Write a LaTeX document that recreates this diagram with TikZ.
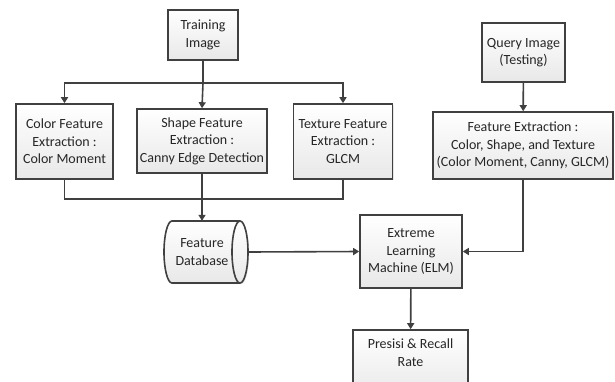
\documentclass[tikz,border=0pt]{standalone}
\usepackage{fontspec}
\setmainfont{Carlito}
\usepackage{xcolor}
\usepackage{tikz}
\usetikzlibrary{arrows.meta,positioning,shadows}

\definecolor{edgegray}{HTML}{404040}
\definecolor{inkgray}{HTML}{262626}

\begin{document}
\begin{tikzpicture}
		[x=1pt,y=-1pt,
		shell/.style={draw=edgegray,line width=1.6pt,top color=white,bottom color=black!9,
			drop shadow={opacity=0.2,shadow xshift=1.2pt,shadow yshift=-1.2pt}},
		box/.style={shell,align=center,inner sep=1pt,text=inkgray,
			font=\fontsize{14}{17.5}\selectfont},
		link/.style={draw=edgegray,line width=1.6pt},
		flow/.style={link,-{Triangle[length=6pt,width=7pt]}}]
		\useasboundingbox (0,0) rectangle (615,381);
		\clip (0,0) rectangle (615,381);
		% training side
		\node[box,minimum width=70pt,minimum height=50pt] (train) at (203,35) {Training\\Image};
		\node[box,minimum width=97pt,minimum height=75pt] (color) at (64.5,141.5) {Color Feature\\Extraction :\\Color Moment};
		\node[box,minimum width=130pt,minimum height=64pt] (shape) at (202,141) {Shape Feature\\Extraction :\\Canny Edge Detection};
		\node[box,minimum width=99pt,minimum height=75pt] (texture) at (343,141.5) {Texture Feature\\Extraction :\\GLCM};
		% stored data drum
		\path[shell] (172,221) -- (240,221) arc[start angle=90,end angle=-90,x radius=8pt,y radius=31pt]
			-- (172,283) arc[start angle=270,end angle=90,x radius=8pt,y radius=31pt] -- cycle;
		\draw[link] (240,221) arc[start angle=90,end angle=270,x radius=8pt,y radius=31pt];
		\node[align=center,inner sep=0pt,minimum width=84pt,minimum height=62pt,text=inkgray,
			font=\fontsize{14}{17.5}\selectfont] (db) at (206,252) {Feature\hspace*{8pt}\\Database\hspace*{8pt}};
		% testing side
		\node[box,minimum width=83pt,minimum height=59pt] (query) at (523.5,52.5) {Query Image\\(Testing)};
		\node[box,minimum width=180pt,minimum height=67pt] (feat) at (523,145.5) {Feature Extraction :\\Color, Shape, and Texture\\(Color Moment, Canny, GLCM)};
		\node[box,minimum width=102pt,minimum height=73pt] (elm) at (411,251.5) {Extreme\\Learning\\Machine (ELM)};
		\node[box,minimum width=115pt,minimum height=68pt] (prec) at (410.5,364) {Presisi \& Recall\\Rate\\\strut};

		\coordinate (split) at (203,83);
		\coordinate (join) at (203,199);
		\draw[link] (train) -- (split);
		\draw[flow] (split) -| (color.north);
		\draw[flow] (split) -- (shape.north);
		\draw[flow] (split) -| (texture.north);
		\draw[link] (color.south) |- (join);
		\draw[link] (texture.south) |- (join);
		\draw[flow] (shape.south) -- (shape.south |- db.north);
		\draw[flow] (db.east) -- (elm.west);
		\draw[flow] (query) -- (feat);
		\draw[flow] (feat.south) |- (elm.east);
		\draw[flow] (elm) -- (prec);
		\end{tikzpicture}
\end{document}
